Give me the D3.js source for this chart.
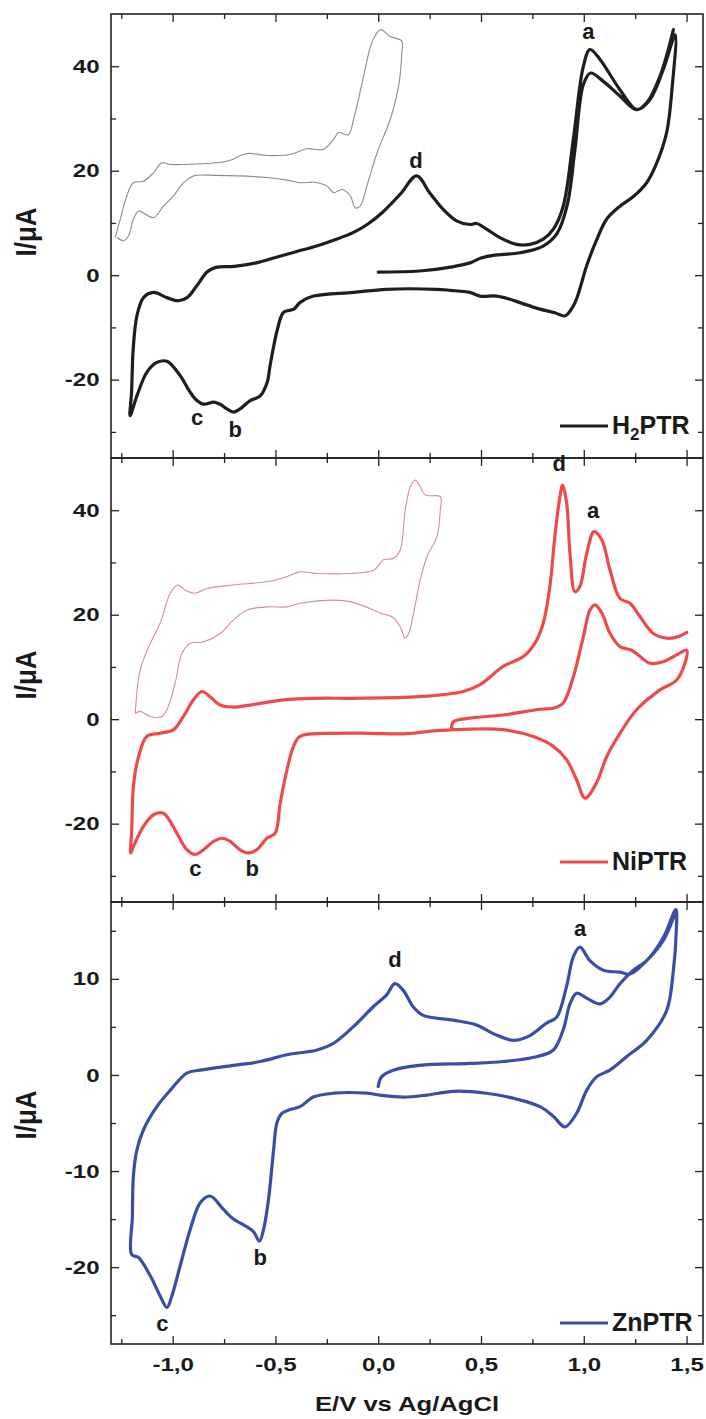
<!DOCTYPE html>
<html>
<head>
<meta charset="utf-8">
<script src="https://cdn.jsdelivr.net/npm/d3@7.9.0/dist/d3.min.js"></script>
<style>
  body { margin: 0; background: #fff; }
  svg text { font-family: "Liberation Sans", Arial, sans-serif; font-weight: bold; fill: #1a1a1a; }
</style>
</head>
<body>
<svg id="chart" width="706" height="1419"></svg>
<script>
// ---- data: [E (V), I (uA)] ----
const h2ptrMain = [
  [0.0,0.6],[0.2,0.8],[0.36,1.6],[0.45,2.4],[0.5,3.3],[0.56,3.8],[0.69,4.3],[0.8,5.5],[0.87,8.0],[0.92,13.5],
  [0.957,24],[0.998,36.5],[1.033,38.7],[1.095,37.1],[1.176,34.3],[1.257,31.7],[1.322,33.6],[1.387,39.4],[1.445,46],
  [1.43,36],[1.403,27.3],[1.35,21],[1.306,17.7],[1.24,15],[1.176,13.2],[1.111,10.7],[1.06,6.5],[1.014,1.8],
  [0.97,-4],[0.949,-5.9],[0.908,-7.8],[0.86,-7.2],[0.787,-6.5],[0.7,-5.4],[0.641,-4.6],[0.575,-4.0],[0.495,-4.0],
  [0.446,-3.3],[0.35,-2.9],[0.284,-2.7],[0.04,-2.7],[-0.12,-3.3],[-0.315,-4.0],[-0.38,-5.2],[-0.41,-6.5],
  [-0.46,-7.1],[-0.49,-10.3],[-0.526,-17.3],[-0.54,-20.5],[-0.574,-23.1],[-0.623,-24.0],[-0.672,-25.6],
  [-0.704,-26.2],[-0.736,-25.6],[-0.769,-24.7],[-0.8,-24.3],[-0.85,-24.7],[-0.882,-24.0],[-0.915,-22.4],
  [-0.964,-19.2],[-1.028,-16.5],[-1.077,-16.7],[-1.126,-18.6],[-1.174,-23.1],[-1.207,-26.9],
  [-1.2,-22.4],[-1.192,-14.1],[-1.174,-7.8],[-1.142,-4.3],[-1.093,-3.3],[-1.028,-4.3],[-0.972,-4.9],[-0.93,-4.3],
  [-0.882,-2.0],[-0.833,0.6],[-0.79,1.5],[-0.7,1.7],[-0.6,2.3],[-0.5,3.4],[-0.4,4.5],[-0.3,5.6],[-0.217,6.7],
  [-0.12,8.2],[-0.05,9.8],[0.02,12.0],[0.107,15.5],[0.187,19.0],[0.25,15.8],[0.316,12.6],[0.381,10.4],
  [0.446,9.7],[0.479,9.9],[0.527,8.8],[0.592,7.2],[0.673,5.9],[0.738,5.9],[0.803,6.9],[0.852,8.8],[0.9,13.2],
  [0.949,26.0],[0.998,40.0],[1.03,43.2],[1.079,41.3],[1.176,35.5],[1.257,31.7],[1.306,33.0],[1.371,38.1],[1.436,47.0]
];
const h2ptrInset = [
  [-1.28,7.2],[-1.255,10.7],[-1.223,15.2],[-1.191,17.7],[-1.142,18.0],[-1.093,19.6],[-1.053,21.5],[-1.012,21.2],
  [-0.947,21.2],[-0.736,21.8],[-0.639,23.3],[-0.542,22.9],[-0.428,23.1],[-0.347,24.2],[-0.266,24.1],[-0.217,26.0],
  [-0.193,27.3],[-0.145,26.9],[-0.12,29.8],[-0.071,38.1],[-0.031,44.5],[0.01,47.0],[0.058,45.7],[0.115,44.8],
  [0.115,42.6],[0.099,36.2],[0.058,29.8],[-0.006,23.4],[-0.055,17.1],[-0.088,13.2],[-0.112,12.9],[-0.136,15.2],
  [-0.177,16.4],[-0.217,15.8],[-0.25,17.1],[-0.315,17.8],[-0.38,17.7],[-0.444,18.2],[-0.542,18.7],[-0.785,19.1],
  [-0.899,19.0],[-0.947,17.7],[-0.996,15.2],[-1.045,13.2],[-1.093,11.0],[-1.134,11.7],[-1.166,12.3],[-1.191,10.7],
  [-1.215,7.5],[-1.239,6.6],[-1.272,7.2]
];
const niptrMain = [
  [0.357,-2.0],[0.365,-0.5],[0.446,0.2],[0.608,0.8],[0.787,1.9],[0.852,2.1],[0.9,3.1],[0.949,8.1],[0.998,15.8],
  [1.03,20.9],[1.055,21.9],[1.088,20.3],[1.128,16.4],[1.176,13.9],[1.233,13.2],[1.274,12.0],[1.322,10.7],
  [1.387,11.0],[1.452,12.3],[1.501,13.2],
  [1.492,10.7],[1.452,7.5],[1.371,5.6],[1.257,1.8],[1.176,-2.7],[1.111,-7.2],[1.062,-12.2],[1.006,-15.1],
  [0.965,-11.6],[0.917,-7.8],[0.852,-5.2],[0.755,-3.3],[0.608,-2.0],[0.446,-1.9],[0.284,-2.2],[0.122,-2.8],
  [-0.04,-2.7],[-0.217,-2.7],[-0.38,-3.3],[-0.412,-5.2],[-0.444,-9.7],[-0.477,-16.1],[-0.501,-21.8],
  [-0.542,-22.8],[-0.591,-25.0],[-0.632,-25.6],[-0.672,-25.0],[-0.72,-23.4],[-0.76,-22.8],[-0.801,-23.4],
  [-0.85,-25.0],[-0.891,-25.9],[-0.931,-25.0],[-0.98,-21.8],[-1.045,-18.0],[-1.093,-18.3],[-1.142,-20.5],
  [-1.191,-24.4],[-1.204,-25.6],
  [-1.199,-21.2],[-1.191,-12.9],[-1.166,-7.2],[-1.126,-3.3],[-1.061,-2.7],[-0.996,-2.0],[-0.948,0.5],
  [-0.899,3.7],[-0.858,5.3],[-0.818,4.3],[-0.769,2.7],[-0.704,2.3],[-0.623,2.7],[-0.461,3.7],[-0.298,4.0],
  [-0.122,4.0],[0.2,4.3],[0.414,5.3],[0.495,6.6],[0.608,10.1],[0.706,12.0],[0.762,14.5],[0.803,18.4],
  [0.835,25.4],[0.859,34.9],[0.884,42.6],[0.897,44.8],[0.917,41.3],[0.933,31.7],[0.957,24.4],[0.981,25.4],
  [1.014,31.7],[1.05,35.9],[1.088,34.3],[1.128,28.5],[1.176,23.1],[1.225,22.2],[1.274,19.6],[1.339,16.4],
  [1.403,15.5],[1.46,15.8],[1.501,16.6]
];
const niptrInset = [
  [-1.182,1.1],[-1.158,9.4],[-1.109,14.5],[-1.061,18.4],[-1.012,24.1],[-0.977,25.7],[-0.939,24.7],[-0.891,24.1],
  [-0.834,25.0],[-0.704,25.7],[-0.542,26.3],[-0.444,27.3],[-0.38,28.2],[-0.298,27.9],[-0.136,27.9],[-0.023,28.5],
  [0.026,30.5],[0.075,30.8],[0.107,32.4],[0.131,40.0],[0.156,44.5],[0.18,45.8],[0.204,44.5],[0.229,42.9],
  [0.302,42.6],[0.302,40.0],[0.285,34.9],[0.237,31.1],[0.204,26.6],[0.172,20.3],[0.148,16.4],[0.131,15.5],
  [0.107,17.7],[0.067,19.6],[0.01,20.3],[-0.023,20.9],[-0.136,22.5],[-0.217,22.8],[-0.38,22.2],[-0.444,21.5],
  [-0.542,21.5],[-0.639,20.9],[-0.704,19.0],[-0.769,16.4],[-0.85,14.8],[-0.915,14.5],[-0.955,12.6],[-0.988,6.9],
  [-1.028,1.8],[-1.053,0.5],[-1.109,0.5],[-1.158,1.5],[-1.182,1.1]
];
const znptrMain = [
  [0.0,-1.2],[0.016,-0.2],[0.073,0.5],[0.2,1.0],[0.446,1.2],[0.608,1.4],[0.77,1.9],[0.852,2.6],[0.9,4.7],
  [0.933,7.4],[0.965,8.5],[1.014,8.0],[1.079,7.4],[1.127,8.1],[1.176,9.5],[1.241,10.9],[1.306,11.9],[1.387,14.3],
  [1.448,17.2],
  [1.45,15],[1.436,10.9],[1.403,6.7],[1.306,3.6],[1.208,1.9],[1.127,0.5],[1.062,-0.2],[1.014,-1.6],[0.965,-4.0],
  [0.908,-5.4],[0.852,-4.3],[0.787,-3.3],[0.69,-2.6],[0.527,-1.9],[0.365,-1.7],[0.235,-2.1],[0.122,-2.3],
  [0.008,-2.1],[-0.055,-1.9],[-0.217,-1.9],[-0.315,-2.3],[-0.38,-3.3],[-0.428,-3.6],[-0.469,-4.0],[-0.493,-5.0],
  [-0.509,-7.8],[-0.534,-13.0],[-0.558,-16.1],[-0.578,-17.3],[-0.607,-16.3],[-0.655,-15.6],[-0.704,-15.0],
  [-0.753,-14.0],[-0.818,-12.6],[-0.866,-13.3],[-0.915,-16.1],[-0.964,-19.9],[-1.004,-23.0],[-1.028,-24.2],
  [-1.061,-23.0],[-1.109,-20.9],[-1.166,-19.0],[-1.199,-18.7],
  [-1.196,-14.7],[-1.191,-10.5],[-1.174,-7.8],[-1.142,-5.7],[-1.077,-3.3],[-1.012,-1.6],[-0.931,0.2],
  [-0.866,0.5],[-0.704,1.0],[-0.574,1.4],[-0.444,2.1],[-0.298,2.6],[-0.217,3.3],[-0.122,5.0],[-0.024,7.1],
  [0.04,8.3],[0.081,9.5],[0.122,8.8],[0.17,7.1],[0.219,6.2],[0.365,5.7],[0.478,5.2],[0.56,4.3],[0.657,3.6],
  [0.738,4.1],[0.819,5.4],[0.868,6.0],[0.916,9.2],[0.949,12.3],[0.981,13.3],[1.03,11.9],[1.095,10.9],
  [1.176,10.7],[1.225,10.5],[1.306,11.9],[1.387,14.0],[1.444,16.8]
];

// peak labels: [text, E, I]
const h2ptrPeaks = [["a",1.022,46.6],["d",0.184,22.0],["c",-0.881,-27.3],["b",-0.696,-29.6]];
const niptrPeaks = [["d",0.88,48.9],["a",1.046,40.0],["c",-0.89,-28.5],["b",-0.613,-28.5]];
const znptrPeaks = [["d",0.082,12.0],["a",0.982,15.3],["b",-0.574,-19.0],["c",-1.05,-25.8]];

const xTicks = [-1, -0.5, 0, 0.5, 1, 1.5];
const xMinor = [-1.25, -0.75, -0.25, 0.25, 0.75, 1.25];
const yTicksWide = [-20, 0, 20, 40];
const yMinorWide = [-30, -10, 10, 30];
const yTicksZn = [-20, -10, 0, 10];
const yMinorZn = [-25, -15, -5, 5, 15];

// ---- layout ----
const left = 111, right = 703;
const panels = [
  { name: "H2PTR", main: h2ptrMain, inset: h2ptrInset, peaks: h2ptrPeaks, color: "#1e1e1e", insetColor: "#8c8c8c",
    yDomain: [-35, 50], top: 14, bottom: 458, ticks: yTicksWide, minor: yMinorWide, legendY: 426, labelY: 232 },
  { name: "NiPTR", main: niptrMain, inset: niptrInset, peaks: niptrPeaks, color: "#ef4a4a", insetColor: "#d98c96",
    yDomain: [-35, 50], top: 458, bottom: 902, ticks: yTicksWide, minor: yMinorWide, legendY: 862, labelY: 675 },
  { name: "ZnPTR", main: znptrMain, inset: null, peaks: znptrPeaks, color: "#3a4ea6", insetColor: null,
    yDomain: [-28, 18], top: 902, bottom: 1344, ticks: yTicksZn, minor: yMinorZn, legendY: 1323, labelY: 1115 }
];

const svg = d3.select("#chart");
const x = d3.scaleLinear().domain([-1.3, 1.58]).range([left, right]);
const fmtE = d => d.toFixed(1).replace(".", ",");

function styleTicks(g, size) {
  g.select(".domain").remove();
  g.selectAll("line").attr("stroke", "#222").attr("stroke-width", 1.3);
  g.selectAll("text").attr("font-size", size).attr("fill", "#1a1a1a");
}

panels.forEach((p, i) => {
  const y = d3.scaleLinear().domain(p.yDomain).range([p.bottom, p.top]);
  const g = svg.append("g");
  const line = d3.line()
    .x(d => x(d[0]))
    .y(d => y(d[1]))
    .curve(d3.curveCatmullRom.alpha(0.5));

  // x ticks top & bottom (inward)
  [["top", d3.axisTop, p.top], ["bottom", d3.axisBottom, p.bottom]].forEach(([pos, ax, yy]) => {
    g.append("g").attr("transform", `translate(0,${yy})`)
      .call(ax(x).tickValues(xMinor).tickSize(-5).tickFormat(""))
      .call(s => styleTicks(s, 0));
    const showLabels = pos === "bottom" && i === panels.length - 1;
    const a = g.append("g").attr("transform", `translate(0,${yy})`)
      .call(ax(x).tickValues(xTicks).tickSize(-8).tickPadding(14).tickFormat(showLabels ? fmtE : ""))
      .call(s => styleTicks(s, 19));
    if (showLabels) a.selectAll("text").attr("transform", "scale(1.27,1)");
  });

  // y ticks left & right (inward)
  [[d3.axisLeft, left, true], [d3.axisRight, right, false]].forEach(([ax, xx, lab]) => {
    g.append("g").attr("transform", `translate(${xx},0)`)
      .call(ax(y).tickValues(p.minor).tickSize(-5).tickFormat(""))
      .call(s => styleTicks(s, 0));
    const a = g.append("g").attr("transform", `translate(${xx},0)`)
      .call(ax(y).tickValues(p.ticks).tickSize(-8).tickPadding(9).tickFormat(lab ? (d => String(d)) : ""))
      .call(s => styleTicks(s, 19));
    if (lab) a.selectAll("text").attr("transform", "scale(1.27,1)");
  });

  // frame
  g.append("rect")
    .attr("x", left).attr("y", p.top)
    .attr("width", right - left).attr("height", p.bottom - p.top)
    .attr("fill", "none").attr("stroke", "#222").attr("stroke-width", 1.6);

  // curves
  if (p.inset) {
    g.append("path").datum(p.inset)
      .attr("d", line).attr("fill", "none")
      .attr("stroke", p.insetColor).attr("stroke-width", 1.1);
  }
  g.append("path").datum(p.main)
    .attr("d", line).attr("fill", "none")
    .attr("stroke", p.color).attr("stroke-width", 3.2)
    .attr("stroke-linejoin", "round").attr("stroke-linecap", "round");

  // peak letters
  g.selectAll(".peak").data(p.peaks).join("text")
    .attr("class", "peak")
    .attr("x", d => x(d[1])).attr("y", d => y(d[2]))
    .attr("dy", "0.35em")
    .attr("text-anchor", "middle")
    .attr("font-size", 22)
    .text(d => d[0]);

  // legend
  g.append("line")
    .attr("x1", 560).attr("x2", 608)
    .attr("y1", p.legendY).attr("y2", p.legendY)
    .attr("stroke", p.color).attr("stroke-width", 3);
  const lt = g.append("text").attr("x", 612).attr("y", p.legendY + 8).attr("font-size", 25);
  if (p.name === "H2PTR") {
    lt.append("tspan").text("H");
    lt.append("tspan").attr("font-size", 17).attr("dy", 6).text("2");
    lt.append("tspan").attr("dy", -6).text("PTR");
  } else {
    lt.text(p.name);
  }

  // y axis title
  svg.append("text")
    .attr("transform", `translate(36,${p.labelY}) scale(1.1,1) rotate(-90)`)
    .attr("text-anchor", "middle")
    .attr("font-size", 26)
    .text("I/\u03BCA");
});

// x axis title
svg.append("text")
  .attr("transform", `translate(${(left + right) / 2},1411) scale(1.25,1)`)
  .attr("text-anchor", "middle")
  .attr("font-size", 20.5)
  .text("E/V vs Ag/AgCl");
</script>
</body>
</html>
